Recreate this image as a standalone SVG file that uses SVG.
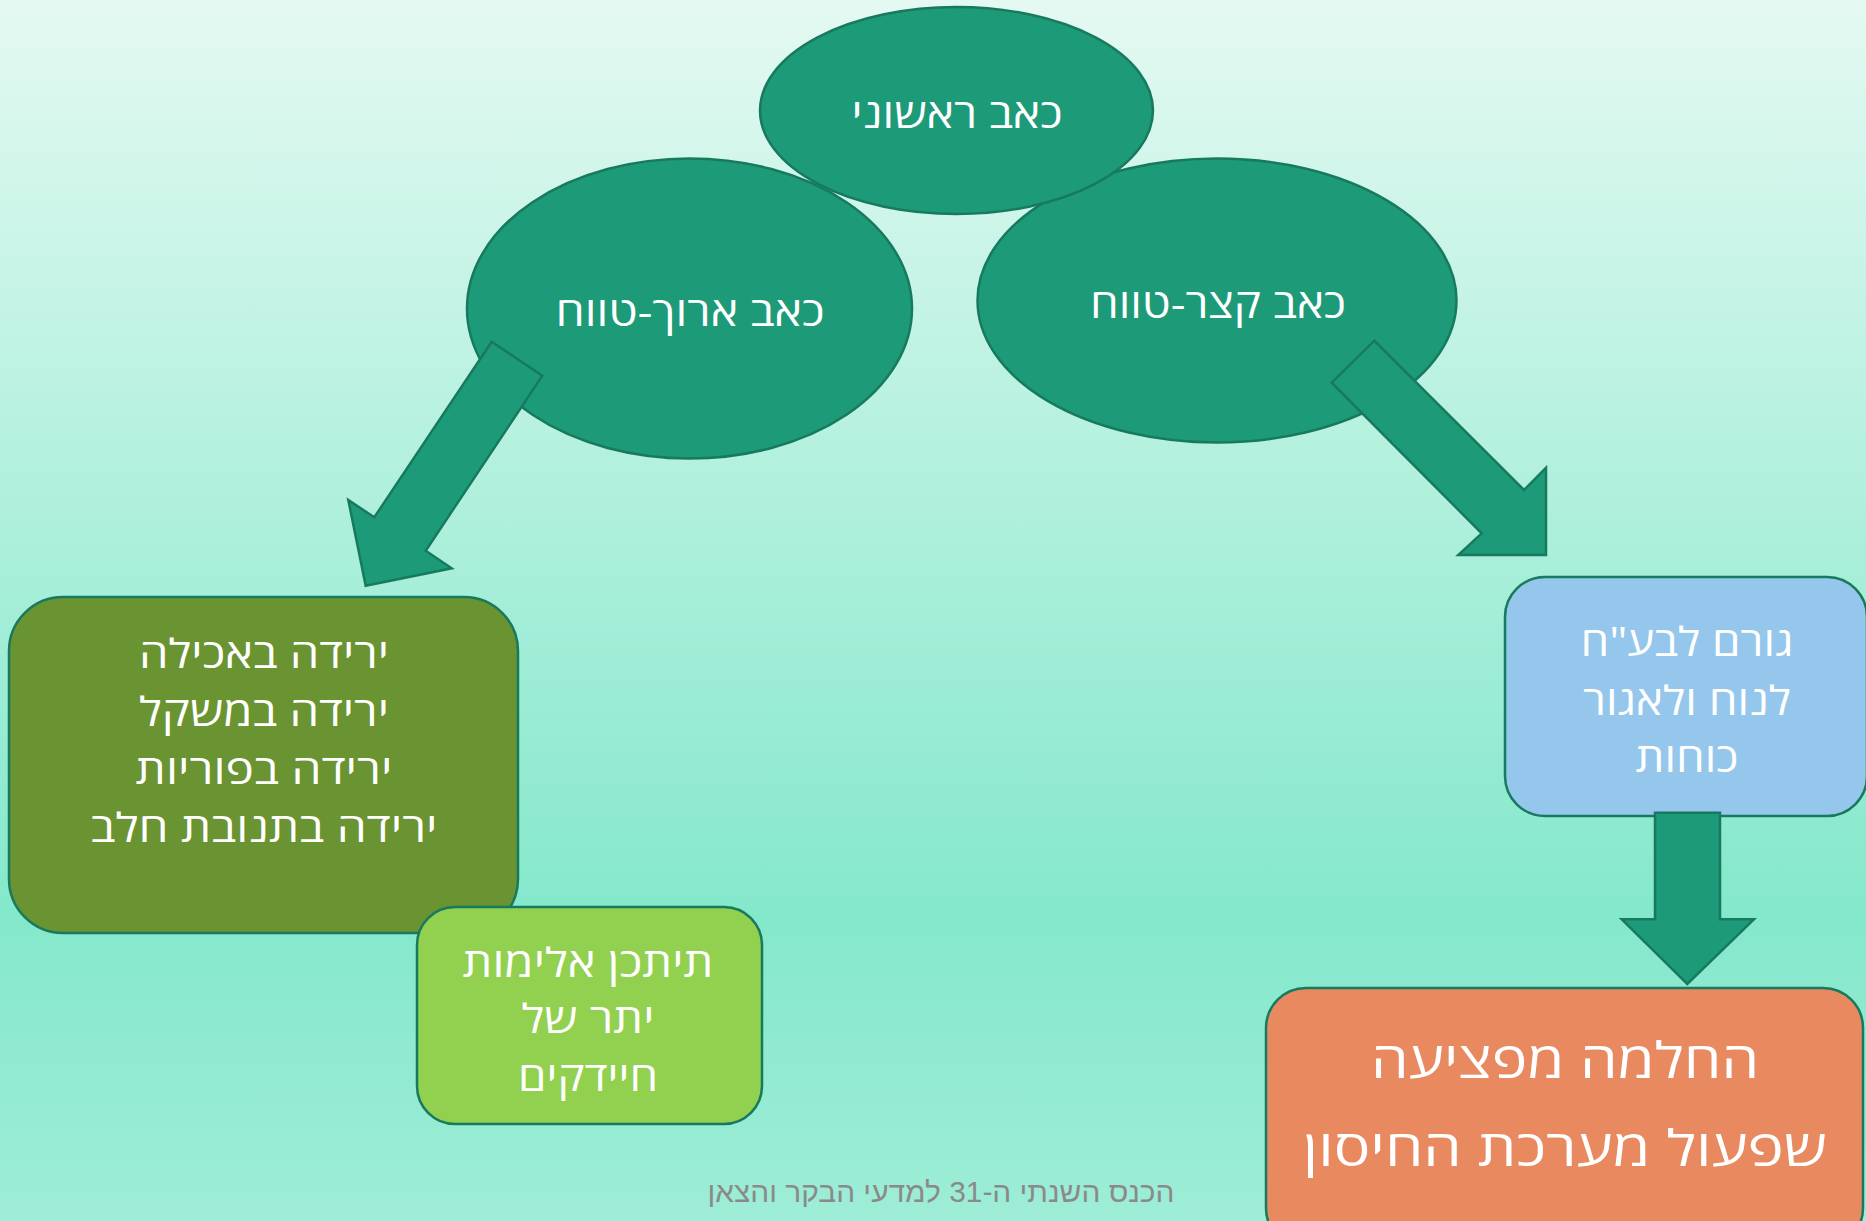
<svg xmlns="http://www.w3.org/2000/svg" width="1866" height="1221" viewBox="0 0 1866 1221">
<defs>
<linearGradient id="bg" x1="0" y1="0" x2="0" y2="1">
<stop offset="0" stop-color="#e4f9f2"/>
<stop offset="0.75" stop-color="#84e8cb"/>
<stop offset="1" stop-color="#9eedd7"/>
</linearGradient>
<style>
.shape{stroke:#177a5e;stroke-width:2.5}
.ell{fill:#1d9a78}
.arrow{fill:#1d9a78;stroke:#177a5e;stroke-width:2.5;stroke-linejoin:miter}
.t{font-family:"Open Sans","Liberation Sans","DejaVu Sans",sans-serif;fill:#ffffff;text-anchor:middle;direction:rtl}
.e{font-size:40px}
.b{font-size:40px}
.o{font-size:50px}
.foot{font-family:"Liberation Sans","DejaVu Sans",sans-serif;fill:#8a8a8a;font-size:29px;text-anchor:middle;direction:rtl}
</style>
</defs>
<rect x="0" y="0" width="1866" height="1221" fill="url(#bg)"/>
<g id="node-long-term">
<ellipse class="shape ell" cx="689.5" cy="308.5" rx="222.5" ry="150"/>
<text class="t e" x="690" y="326" textLength="269" lengthAdjust="spacingAndGlyphs">כאב ארוך-טווח</text>
</g>
<g id="node-short-term">
<ellipse class="shape ell" cx="1217" cy="300.5" rx="239.5" ry="142"/>
<text class="t e" x="1218" y="318" textLength="256" lengthAdjust="spacingAndGlyphs">כאב קצר-טווח</text>
</g>
<g id="node-primary">
<ellipse class="shape ell" cx="956.5" cy="110.5" rx="196.5" ry="103.5"/>
<text class="t e" x="957" y="128" textLength="211" lengthAdjust="spacingAndGlyphs">כאב ראשוני</text>
</g>
<g id="node-decline">
<rect class="shape" x="9" y="597" width="509" height="336" rx="54" fill="#6a9331"/>
<text class="t b" x="264" y="668" textLength="250" lengthAdjust="spacingAndGlyphs">ירידה באכילה</text>
<text class="t b" x="264" y="726" textLength="250" lengthAdjust="spacingAndGlyphs">ירידה במשקל</text>
<text class="t b" x="264" y="784" textLength="257" lengthAdjust="spacingAndGlyphs">ירידה בפוריות</text>
<text class="t b" x="264" y="842" textLength="347" lengthAdjust="spacingAndGlyphs">ירידה בתנובת חלב</text>
</g>
<g id="node-parasites">
<rect class="shape" x="417" y="907" width="345" height="217" rx="38" fill="#92d050"/>
<text class="t b" x="588" y="977" textLength="251" lengthAdjust="spacingAndGlyphs">תיתכן אלימות</text>
<text class="t b" x="588" y="1033" textLength="133" lengthAdjust="spacingAndGlyphs">יתר של</text>
<text class="t b" x="588" y="1091" textLength="140" lengthAdjust="spacingAndGlyphs">חיידקים</text>
</g>
<g id="node-rest">
<rect class="shape" x="1505" y="577" width="362" height="239" rx="40" fill="#95c7ec"/>
<text class="t b" x="1687" y="656" textLength="213" lengthAdjust="spacingAndGlyphs">גורם לבע"ח</text>
<text class="t b" x="1687" y="715" textLength="208" lengthAdjust="spacingAndGlyphs">לנוח ולאגור</text>
<text class="t b" x="1687" y="772" textLength="103" lengthAdjust="spacingAndGlyphs">כוחות</text>
</g>
<g id="node-recovery">
<rect class="shape" x="1266" y="988" width="597" height="260" rx="40" fill="#e8895f"/>
<text class="t o" x="1565" y="1078" textLength="388" lengthAdjust="spacingAndGlyphs">החלמה מפציעה</text>
<text class="t o" x="1565" y="1166" textLength="524" lengthAdjust="spacingAndGlyphs">שפעול מערכת החיסון</text>
</g>
<g id="connectors">
<polygon class="arrow" points="491.7,341.7 542.3,375.7 425.7,550.7 451.7,568.3 365.7,585.7 348.3,500 374.3,517.3"/>
<polygon class="arrow" points="1374.3,340.7 1524,490 1546,467.7 1546,555 1458.3,555 1481.7,533.3 1331.7,382.7"/>
<polygon class="arrow" points="1655,812.7 1720,812.7 1720,919.3 1754,919.3 1687.3,984 1621.7,919.3 1655,919.3"/>
</g>
<text class="foot" x="941" y="1202" textLength="467" lengthAdjust="spacingAndGlyphs">הכנס השנתי ה-31 למדעי הבקר והצאן</text>
</svg>
